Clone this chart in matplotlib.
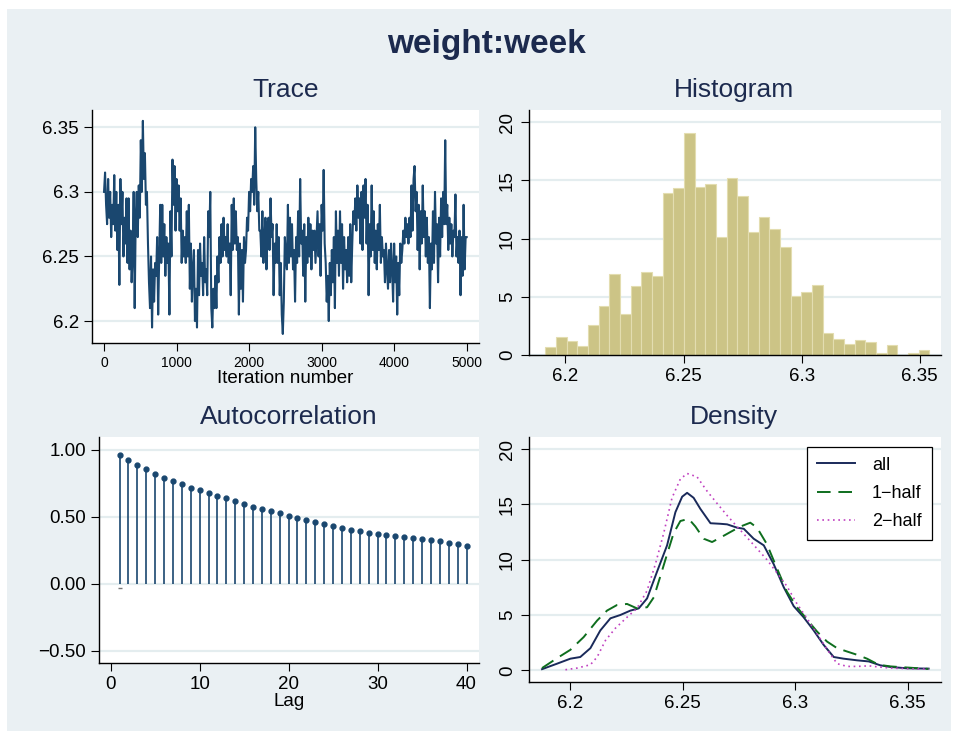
import matplotlib
matplotlib.use("Agg")
import matplotlib.pyplot as plt
import numpy as np
from matplotlib.patches import Rectangle

plt.rcParams['font.family'] = ['Liberation Sans', 'DejaVu Sans']

# ---- data ----
trace_values = [
    6.30, 6.315, 6.29, 6.275, 6.31, 6.28, 6.30, 6.265,
    6.29, 6.275, 6.313, 6.27, 6.30, 6.255, 6.29, 6.228,
    6.31, 6.275, 6.30, 6.25, 6.28, 6.26, 6.295, 6.245,
    6.295, 6.24, 6.27, 6.23, 6.25, 6.30, 6.21, 6.28,
    6.30, 6.265, 6.305, 6.28, 6.34, 6.30, 6.355, 6.31,
    6.33, 6.29, 6.30, 6.26, 6.23, 6.21, 6.25, 6.195,
    6.24, 6.215, 6.245, 6.235, 6.265, 6.205, 6.25, 6.29, 6.245,
    6.29, 6.25, 6.275, 6.235, 6.265, 6.245, 6.26, 6.205,
    6.285, 6.25, 6.325, 6.29, 6.32, 6.27, 6.31, 6.285,
    6.305, 6.27, 6.295, 6.245, 6.27, 6.25, 6.265, 6.245,
    6.285, 6.25, 6.29, 6.225, 6.26, 6.215, 6.24, 6.255,
    6.20, 6.225, 6.195, 6.255, 6.22, 6.26, 6.235, 6.245,
    6.22, 6.265, 6.23, 6.24, 6.22, 6.285, 6.265, 6.30,
    6.21, 6.195, 6.225, 6.21, 6.235, 6.21, 6.25, 6.23,
    6.265, 6.245, 6.275, 6.25, 6.28, 6.255, 6.265, 6.25,
    6.275, 6.245, 6.26, 6.22, 6.29, 6.255, 6.295, 6.26,
    6.285, 6.255, 6.265, 6.205, 6.26, 6.225, 6.255, 6.215,
    6.265, 6.245, 6.255, 6.28, 6.27, 6.30, 6.285, 6.31,
    6.30, 6.32, 6.29, 6.35, 6.31, 6.285, 6.30, 6.27,
    6.27, 6.25, 6.285, 6.245, 6.265, 6.28, 6.24, 6.275,
    6.28, 6.255, 6.295, 6.265, 6.275, 6.22, 6.26,
    6.245, 6.275, 6.245, 6.265, 6.22, 6.245, 6.205, 6.19,
    6.215, 6.265, 6.25, 6.24, 6.29, 6.245, 6.28, 6.25,
    6.275, 6.24, 6.255, 6.215, 6.265, 6.245, 6.285, 6.25,
    6.31, 6.26, 6.27, 6.235, 6.275, 6.215, 6.265, 6.245,
    6.28, 6.25, 6.275, 6.24, 6.27, 6.255, 6.27, 6.245,
    6.265, 6.285, 6.25, 6.275, 6.235, 6.29, 6.27, 6.317,
    6.26, 6.245, 6.215, 6.235, 6.20, 6.245, 6.22, 6.255,
    6.23, 6.265, 6.21, 6.285, 6.245, 6.27, 6.235, 6.285,
    6.245, 6.275, 6.225, 6.265, 6.24, 6.255, 6.23, 6.265,
    6.235, 6.275, 6.23, 6.26, 6.285, 6.275, 6.295, 6.27,
    6.305, 6.28, 6.295, 6.26, 6.30, 6.255, 6.305, 6.28,
    6.31, 6.26, 6.29, 6.22, 6.275, 6.25, 6.305, 6.255,
    6.285, 6.245, 6.27, 6.24, 6.275, 6.255, 6.29, 6.245,
    6.265, 6.25, 6.255, 6.23, 6.26, 6.24, 6.225, 6.255,
    6.23, 6.26, 6.24, 6.215, 6.26, 6.23, 6.25, 6.205,
    6.245, 6.22, 6.26, 6.245, 6.255, 6.27, 6.26, 6.28,
    6.265, 6.275, 6.26, 6.28, 6.265, 6.305, 6.27, 6.31,
    6.32, 6.285, 6.30, 6.255, 6.29, 6.24, 6.285, 6.26,
    6.305, 6.265, 6.285, 6.25, 6.28, 6.245, 6.265, 6.21,
    6.26, 6.24, 6.285, 6.245, 6.30, 6.26, 6.275, 6.23,
    6.28, 6.25, 6.295, 6.265, 6.30, 6.275, 6.34, 6.275,
    6.29, 6.255, 6.28, 6.26, 6.275, 6.25, 6.27, 6.265,
    6.298, 6.25, 6.265, 6.245, 6.27, 6.22, 6.265, 6.235,
    6.29, 6.24, 6.265, 6.265,
]
iterations = np.linspace(1, 5000, len(trace_values))

hist_left = 6.1915
hist_width = 0.004515
hist_heights = [0.66, 1.55, 1.2, 0.77, 2.55, 4.2, 6.93, 3.55, 5.9, 7.1, 6.82, 13.93,
                14.36, 19.05, 14.41, 14.67, 10.14, 15.19, 13.64, 10.57, 11.89, 10.8,
                9.31, 5.04, 5.39, 5.99, 1.86, 1.38, 0.97, 1.26, 1.09, 0.17, 0.89, 0.0,
                0.14, 0.43]

lags = list(range(1, 41))
acf = [0.965, 0.926, 0.891, 0.856, 0.821, 0.792, 0.767, 0.744, 0.72, 0.70,
       0.68, 0.658, 0.638, 0.618, 0.598, 0.578, 0.558, 0.541, 0.526, 0.509,
       0.494, 0.479, 0.464, 0.449, 0.434, 0.419, 0.404, 0.392, 0.382, 0.372,
       0.362, 0.355, 0.347, 0.340, 0.333, 0.325, 0.318, 0.308, 0.295, 0.283]

dens_all_x = [6.1874, 6.1941, 6.2, 6.2044, 6.2089, 6.2133, 6.2178, 6.2222, 6.2267,
              6.2304, 6.2341, 6.2385, 6.2430, 6.2467, 6.2497, 6.2519, 6.2548, 6.2578,
              6.2623, 6.2667, 6.2697, 6.2741, 6.2771, 6.2815, 6.2860, 6.2904, 6.2949,
              6.2993, 6.3037, 6.3082, 6.3126, 6.3171, 6.3215, 6.3275, 6.3327, 6.3378,
              6.3423, 6.3497, 6.3593]
dens_all_y = [0.1, 0.6, 1.05, 1.2, 2.0, 3.6, 4.7, 5.0, 5.4,
              5.6, 6.5, 8.9, 11.3, 14.3, 15.7, 16.05, 15.6, 14.6,
              13.3, 13.25, 13.2, 12.9, 12.8, 11.9, 11.3, 9.6, 7.5,
              5.8, 4.8, 3.6, 2.3, 1.2, 1.05, 0.9, 0.8, 0.45,
              0.3, 0.18, 0.15]

dens_h1_x = [6.1874, 6.1941, 6.2, 6.2059, 6.2119, 6.2163, 6.2207, 6.2252, 6.2296,
             6.2341, 6.2371, 6.2400, 6.2430, 6.2459, 6.2489, 6.2526, 6.2556, 6.2593,
             6.2630, 6.2667, 6.2711, 6.2756, 6.2800, 6.2830, 6.2874, 6.2919, 6.2963,
             6.3008, 6.3052, 6.3097, 6.3141, 6.3186, 6.3230, 6.3275, 6.3319, 6.3371,
             6.3423, 6.3497, 6.3593]
dens_h1_y = [0.2, 1.1, 1.85, 3.0, 4.5, 5.4, 5.9, 6.0, 5.6,
             5.7, 6.6, 8.5, 10.5, 12.4, 13.5, 13.7, 13.0, 11.9,
             11.6, 12.0, 12.5, 13.0, 13.35, 12.9, 11.4, 9.2, 7.1,
             5.7, 4.6, 3.5, 2.6, 2.0, 1.7, 1.4, 1.05, 0.5,
             0.35, 0.25, 0.12]

dens_h2_x = [6.1978, 6.2030, 6.2089, 6.2119, 6.2156, 6.2200, 6.2252, 6.2296, 6.2341,
             6.2378, 6.2415, 6.2452, 6.2489, 6.2519, 6.2563, 6.2608, 6.2652, 6.2697,
             6.2741, 6.2786, 6.2830, 6.2874, 6.2919, 6.2963, 6.3008, 6.3052, 6.3097,
             6.3141, 6.3186, 6.3230, 6.3275, 6.3327, 6.3371, 6.3423, 6.3497, 6.3593]
dens_h2_y = [0.05, 0.2, 0.5, 1.2, 2.7, 3.8, 4.8, 5.6, 7.2,
             9.6, 12.4, 15.6, 17.3, 17.8, 17.5, 16.2, 15.1, 14.0,
             13.0, 12.0, 11.0, 10.0, 8.8, 7.6, 6.0, 4.7, 3.3,
             1.9, 0.6, 0.35, 0.35, 0.4, 0.3, 0.2, 0.15, 0.1]

# ---- styling ----
W, H = 956, 735
bg = '#EAF0F3'
grid_c = '#E4EDEF'
navy_txt = '#1C2A4E'
line_c = '#1A476F'

fig = plt.figure(figsize=(W / 100, H / 100), dpi=100, facecolor='white')
fig.patches.append(Rectangle((7 / W, 1 - 731 / H), (951 - 7) / W, (731 - 9) / H,
                             transform=fig.transFigure, facecolor=bg, edgecolor='none',
                             zorder=-10))


def px_axes(l, t, r, b):
    return fig.add_axes([l / W, 1 - b / H, (r - l) / W, (b - t) / H])


def style(ax, yticks, rot=0, ysize=13.5, xsize=13.5):
    ax.set_facecolor('white')
    for s in ['top', 'right']:
        ax.spines[s].set_visible(False)
    ax.spines['left'].set_linewidth(1.0)
    ax.spines['bottom'].set_linewidth(1.0)
    ax.set_yticks(yticks)
    ax.yaxis.grid(True, color=grid_c, linewidth=1.6)
    ax.set_axisbelow(True)
    ax.tick_params(axis='both', direction='out', length=5.5, width=0.8, color='black', pad=4)
    ax.tick_params(axis='y', labelsize=ysize, labelrotation=rot)
    ax.tick_params(axis='x', labelsize=xsize)
    if rot == 90:
        for lab in ax.get_yticklabels():
            lab.set_va('center')


fig.text(486 / W, 1 - 45 / H, 'weight:week', ha='center', va='center', fontsize=24,
         fontweight='bold', color=navy_txt)
for x, y, t in [(286, 90, 'Trace'), (734, 90, 'Histogram'),
                (289, 417, 'Autocorrelation'), (734, 417, 'Density')]:
    fig.text(x / W, 1 - y / H, t, ha='center', va='center', fontsize=19, color=navy_txt)

# Trace
ax1 = px_axes(92, 110, 479, 343)
ax1.plot(iterations, trace_values, color=line_c, linewidth=1.5)
ax1.set_xlim(-165, 5170)
ax1.set_ylim(6.183, 6.3634)
style(ax1, [6.2, 6.25, 6.3, 6.35], xsize=10)
ax1.set_yticklabels(['6.2', '6.25', '6.3', '6.35'])
ax1.set_xticks([0, 1000, 2000, 3000, 4000, 5000])
ax1.set_xlabel('Iteration number', fontsize=13.5, labelpad=0)

# Histogram
ax2 = px_axes(529, 110, 941, 355)
edges = [hist_left + i * hist_width for i in range(len(hist_heights))]
ax2.bar(edges, hist_heights, width=hist_width, align='edge', color='#CCC486',
        edgecolor='#E3DDB0', linewidth=0.8)
ax2.set_xlim(6.1846, 6.359)
ax2.set_ylim(0, 21.06)
style(ax2, [0, 5, 10, 15, 20], rot=90)
ax2.set_xticks([6.2, 6.25, 6.3, 6.35])
ax2.set_xticklabels(['6.2', '6.25', '6.3', '6.35'])

# Autocorrelation
ax3 = px_axes(99, 437, 479, 663)
ax3.vlines(lags, 0, acf, color=line_c, linewidth=1.2)
ax3.plot(lags, acf, 'o', color=line_c, markersize=3.5)
ax3.plot([1], [-0.027], marker='_', color='#777777', markersize=2.5)
ax3.set_xlim(-1.31, 41.4)
ax3.set_ylim(-0.59, 1.097)
style(ax3, [-0.5, 0.0, 0.5, 1.0])
ax3.set_yticklabels(['\u22120.50', '0.00', '0.50', '1.00'])
ax3.set_xticks([0, 10, 20, 30, 40])
ax3.set_xlabel('Lag', fontsize=13.5, labelpad=0)

# Density
ax4 = px_axes(529, 437, 941, 682)
ax4.plot(dens_all_x, dens_all_y, color='#1A2A5A', linewidth=1.4, label='all')
ax4.plot(dens_h1_x, dens_h1_y, color='#0E6E1E', linewidth=1.4, dashes=(7, 4), label='1\u2212half')
ax4.plot(dens_h2_x, dens_h2_y, color='#C040C0', linewidth=1.2, linestyle=(0, (1, 2.2)),
         label='2\u2212half')
ax4.set_xlim(6.1816, 6.3648)
ax4.set_ylim(-1.06, 21.1)
style(ax4, [0, 5, 10, 15, 20], rot=90)
ax4.set_xticks([6.2, 6.25, 6.3, 6.35])
ax4.set_xticklabels(['6.2', '6.25', '6.3', '6.35'])
leg = ax4.legend(loc='upper right', bbox_to_anchor=(0.986, 0.975), fontsize=13,
                 fancybox=False, edgecolor='black', framealpha=1, handlelength=2.1,
                 borderpad=0.55, labelspacing=0.62, handletextpad=0.95, borderaxespad=0.2)
leg.get_frame().set_linewidth(0.9)

fig.savefig('out.png', dpi=100, facecolor='white')
